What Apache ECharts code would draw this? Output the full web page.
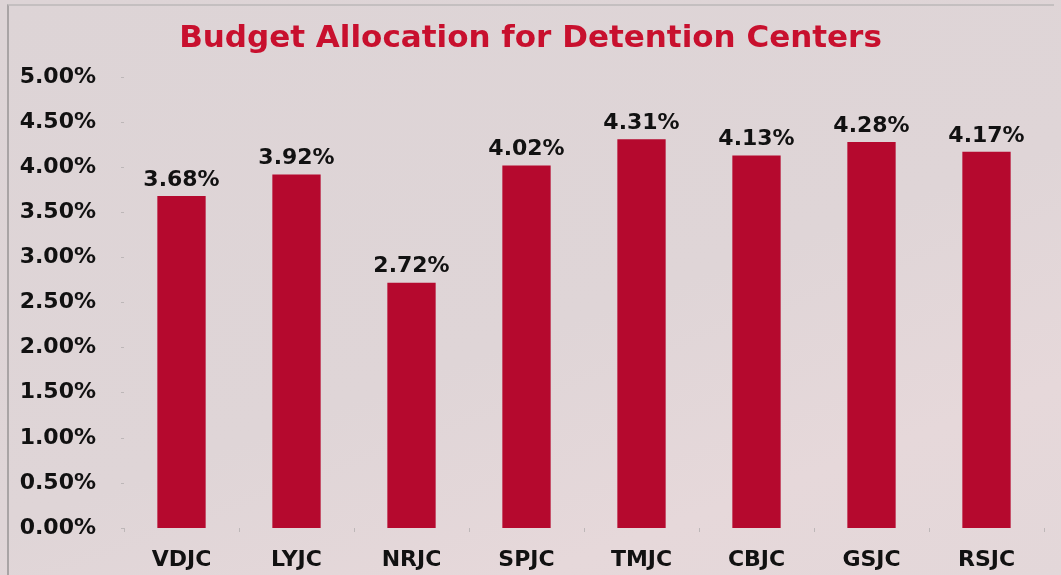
<!DOCTYPE html>
<html>
<head>
<meta charset="utf-8">
<script src="https://cdn.jsdelivr.net/npm/echarts@6/dist/echarts.min.js"></script>
<style>
    html, body { margin: 0; padding: 0; background: #ddd3d5; }
    #frame {
        position: absolute; left: 0; top: 0; width: 1061px; height: 575px;
        background: linear-gradient(160deg, #ddd4d6 0%, #dfd5d7 55%, #e6d8da 80%, #e3d7d9 100%);
    }
    #chart { position: absolute; left: 0; top: 0; width: 1061px; height: 575px; }
    #border {
        position: absolute; left: 7px; top: 4px; width: 1045px; height: 580px;
        border-left: 2px solid #a9a4a5; border-top: 2px solid #c4bfc0;
    }
</style>
</head>
<body>
<div id="frame"></div>
<div id="border"></div>
<div id="chart"></div>
<script>
    var titleText = 'Budget Allocation for Detention Centers';
    var categories = ['VDJC', 'LYJC', 'NRJC', 'SPJC', 'TMJC', 'CBJC', 'GSJC', 'RSJC'];
    var allocation = [3.68, 3.92, 2.72, 4.02, 4.31, 4.13, 4.28, 4.17];

    var font = '"DejaVu Sans", Verdana, sans-serif';
    var chart = echarts.init(document.getElementById('chart'));

    chart.setOption({
        backgroundColor: 'transparent',
        animation: false,
        title: {
            text: titleText,
            left: 'center',
            top: 18,
            textStyle: {
                fontFamily: font,
                fontSize: 31,
                fontWeight: 'bold',
                color: '#c8102e'
            }
        },
        grid: {
            left: 124,
            right: 17,
            top: 77,
            bottom: 47
        },
        xAxis: {
            type: 'category',
            data: categories,
            axisLine: { show: false },
            axisTick: {
                show: true,
                length: 4,
                lineStyle: { color: '#bdb7b8' }
            },
            axisLabel: {
                margin: 21,
                fontFamily: font,
                fontSize: 22,
                fontWeight: 'bold',
                color: '#111'
            }
        },
        yAxis: {
            type: 'value',
            min: 0,
            max: 5,
            interval: 0.5,
            splitLine: { show: false },
            axisLine: { show: false },
            axisTick: {
                show: true,
                length: 3,
                lineStyle: { color: '#bdb7b8' }
            },
            axisLabel: {
                margin: 28,
                fontFamily: font,
                fontSize: 22,
                fontWeight: 'bold',
                color: '#111',
                formatter: function (v) { return v.toFixed(2) + '%'; }
            }
        },
        series: [
            {
                type: 'bar',
                data: allocation,
                barWidth: '42%',
                itemStyle: { color: '#b5092e' },
                label: {
                    show: true,
                    position: 'top',
                    distance: 5,
                    fontFamily: font,
                    fontSize: 22,
                    fontWeight: 'bold',
                    color: '#111',
                    formatter: function (p) { return p.value.toFixed(2) + '%'; }
                }
            }
        ]
    });
</script>
</body>
</html>
